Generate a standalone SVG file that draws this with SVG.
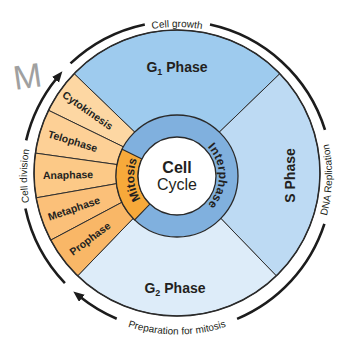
<svg xmlns="http://www.w3.org/2000/svg" width="359" height="342" viewBox="0 0 359 342">
<style>
  text { font-family: "Liberation Sans", Arial, Helvetica, sans-serif; fill: #231f20; }
  .sec { stroke: #2e2e2e; stroke-width: 1; }
  .big { font-size: 14px; font-weight: bold; }
  .ph { font-size: 10.5px; font-weight: bold; }
  .lbl { font-size: 10px; }
  .ring { font-size: 12px; font-weight: bold; }
  .arc { fill: none; stroke: #1c1c1c; stroke-width: 2.6; }
</style>
<defs>
  <marker id="ah" markerUnits="userSpaceOnUse" markerWidth="12" markerHeight="10" refX="2" refY="4.5" orient="auto">
    <path d="M0,0 L11,4.5 L0,9 Z" fill="#1c1c1c"/>
  </marker>
  <path id="pInter" d="M191.36,136.53 A42,42 0 0 1 191.36,215.47"/>
  <path id="pMito" d="M165.87,217.53 A43,43 0 0 1 158.83,137.03"/>
  <path id="pGrowth" d="M102.5,46.96 A149,149 0 0 1 251.5,46.96"/>
  <path id="pDiv" d="M47.1,251 A150,150 0 0 1 47.1,101"/>
  <path id="pDNA" d="M309.2,257 A155,155 0 0 0 313.2,102"/>
  <path id="pPrep" d="M97.75,313.26 A158.5,158.5 0 0 0 256.25,313.26"/>
</defs>
<rect width="359" height="342" fill="#ffffff"/>

<g id="g1-phase">
  <path class="sec" fill="#9ecbee" d="M177,173 L279.86,73.66 A143,143 0 0 0 74.14,73.66 Z"/>
  <text class="big" x="177" y="72" text-anchor="middle">G<tspan font-size="9" dy="3">1</tspan><tspan dy="-3"> Phase</tspan></text>
</g>
<g id="s-phase">
  <path class="sec" fill="#bddaf3" d="M177,173 L276.34,275.86 A143,143 0 0 0 279.86,73.66 Z"/>
  <text class="big" transform="translate(295,175.5) rotate(-90)" text-anchor="middle">S Phase</text>
</g>
<g id="g2-phase">
  <path class="sec" fill="#ddecf9" d="M177,173 L77.66,275.86 A143,143 0 0 0 276.34,275.86 Z"/>
  <text class="big" x="175" y="292.5" text-anchor="middle">G<tspan font-size="9" dy="3">2</tspan><tspan dy="-3"> Phase</tspan></text>
</g>
<g id="cytokinesis">
  <path class="sec" fill="#fdd7a3" d="M177,173 L74.14,73.66 A143,143 0 0 0 48.47,110.31 Z"/>
  <text class="ph" x="87.7" y="110.5" dy="3.7" text-anchor="middle" transform="rotate(35 87.7 110.5)">Cytokinesis</text>
</g>
<g id="telophase">
  <path class="sec" fill="#fdd096" d="M177,173 L48.47,110.31 A143,143 0 0 0 35.39,153.1 Z"/>
  <text class="ph" x="72.8" y="141.1" dy="3.7" text-anchor="middle" transform="rotate(17 72.8 141.1)">Telophase</text>
</g>
<g id="anaphase">
  <path class="sec" fill="#fcc987" d="M177,173 L35.39,153.1 A143,143 0 0 0 36.17,197.83 Z"/>
  <text class="ph" x="68" y="174.9" dy="3.7" text-anchor="middle" transform="rotate(-1 68 174.9)">Anaphase</text>
</g>
<g id="metaphase">
  <path class="sec" fill="#fbc079" d="M177,173 L36.17,197.83 A143,143 0 0 0 50.74,240.14 Z"/>
  <text class="ph" x="73.9" y="208.5" dy="3.7" text-anchor="middle" transform="rotate(-19 73.9 208.5)">Metaphase</text>
</g>
<g id="prophase">
  <path class="sec" fill="#f9b767" d="M177,173 L50.74,240.14 A143,143 0 0 0 77.66,275.86 Z"/>
  <text class="ph" x="90" y="238.6" dy="3.7" text-anchor="middle" transform="rotate(-37 90 238.6)">Prophase</text>
</g>
<circle cx="177" cy="173" r="143" fill="none" stroke="#2a2a2a" stroke-width="1.5"/>

<g id="interphase">
  <circle cx="177" cy="176" r="61" fill="#80b0de" stroke="#2a2a2a" stroke-width="1.3"/>
  <text class="ring" letter-spacing="0.3"><textPath href="#pInter" startOffset="50%" text-anchor="middle">Interphase</textPath></text>
</g>
<g id="mitosis">
  <path fill="#f7a93a" stroke="#2a2a2a" stroke-width="1.1" d="M122.17,149.26 A61,61 0 0 0 134.62,219.88 L149.91,204.05 A39,39 0 0 1 141.95,158.9 Z"/>
  <text class="ring" font-size="11.5"><textPath href="#pMito" startOffset="50%" text-anchor="middle">Mitosis</textPath></text>
</g>
<g id="cell-cycle">
  <circle cx="177" cy="176" r="39" fill="#ffffff" stroke="#2a2a2a" stroke-width="1.3"/>
  <text x="177" y="173.3" text-anchor="middle" font-size="16" font-weight="bold">Cell</text>
  <text x="177" y="190" text-anchor="middle" font-size="16">Cycle</text>
</g>

<g id="connectors">
  <path class="arc" marker-end="url(#ah)" d="M26.15,140.35 A155,155 0 0 1 56.72,78.24"/>
  <path class="arc" d="M70.5,63.4 A155,155 0 0 1 144.8,24.4"/>
  <path class="arc" d="M210,24.6 A155,155 0 0 1 325,129.9"/>
  <path class="arc" d="M324.4,223.9 A155,155 0 0 1 237.1,318.9"/>
  <path class="arc" marker-end="url(#ah)" d="M116.7,318.8 A155,155 0 0 1 80.3,297.1"/>
  <path class="arc" d="M64.9,283.1 A155,155 0 0 1 25.4,208.5"/>
  <text class="lbl"><textPath href="#pGrowth" startOffset="50%" text-anchor="middle">Cell growth</textPath></text>
  <text class="lbl"><textPath href="#pDiv" startOffset="50%" text-anchor="middle">Cell division</textPath></text>
  <text class="lbl" font-size="10.5"><textPath href="#pDNA" startOffset="50%" text-anchor="middle">DNA Replication</textPath></text>
  <text class="lbl" font-size="11"><textPath href="#pPrep" startOffset="50%" text-anchor="middle">Preparation for mitosis</textPath></text>
</g>

<text x="15" y="90" font-size="34" fill="#a0a0a0" style="fill:#a0a0a0" transform="rotate(-8 15 90)">M</text>
</svg>
